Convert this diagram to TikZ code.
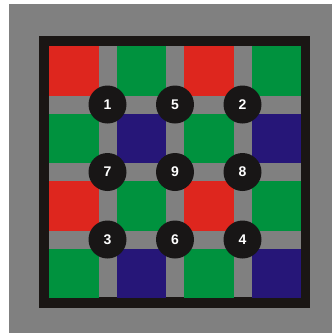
\documentclass[tikz,border=0pt]{standalone}
\usepackage{fontspec}
\setmainfont{Liberation Sans}
\definecolor{bggray}{RGB}{128,128,128}
\definecolor{pxred}{RGB}{222,38,30}
\definecolor{pxgreen}{RGB}{0,146,62}
\definecolor{pxblue}{RGB}{38,22,120}
\definecolor{frameblack}{RGB}{26,22,20}
\definecolor{dotblack}{RGB}{24,22,22}
\begin{document}
\begin{tikzpicture}[x=1pt,y=-1pt,
  cell/.style={draw=none},
  dot/.style={circle,fill=dotblack,minimum size=38pt,inner sep=0pt,text=white,font=\bfseries\fontsize{14}{14}\selectfont}]
\useasboundingbox (0,0) rectangle (332,333);
\fill[white] (0,0) rectangle (332,333);
\fill[bggray] (9,4) rectangle (332,333);
\fill[frameblack] (39,36) rectangle (310,308);
\fill[bggray] (49,46) rectangle (301,297);
% columns and rows
\def\cx{{49,116.5,184,251.5}}
\def\cy{{46,113.5,181,248.5}}
\foreach \r/\c/\col in {0/0/pxred,0/1/pxgreen,0/2/pxred,0/3/pxgreen,
  1/0/pxgreen,1/1/pxblue,1/2/pxgreen,1/3/pxblue,
  2/0/pxred,2/1/pxgreen,2/2/pxred,2/3/pxgreen,
  3/0/pxgreen,3/1/pxblue,3/2/pxgreen,3/3/pxblue}{
  \pgfmathsetmacro{\xa}{\cx[\c]}
  \pgfmathsetmacro{\ya}{\cy[\r]}
  \fill[\col] (\xa,\ya) rectangle ++(49.5,49.5);
}
\node[dot] (n1) at (107.5,104.5) {1};
\node[dot] (n5) at (175,104.5) {5};
\node[dot] (n2) at (242.5,104.5) {2};
\node[dot] (n7) at (107.5,172) {7};
\node[dot] (n9) at (175,172) {9};
\node[dot] (n8) at (242.5,172) {8};
\node[dot] (n3) at (107.5,239.5) {3};
\node[dot] (n6) at (175,239.5) {6};
\node[dot] (n4) at (242.5,239.5) {4};
\end{tikzpicture}
\end{document}
